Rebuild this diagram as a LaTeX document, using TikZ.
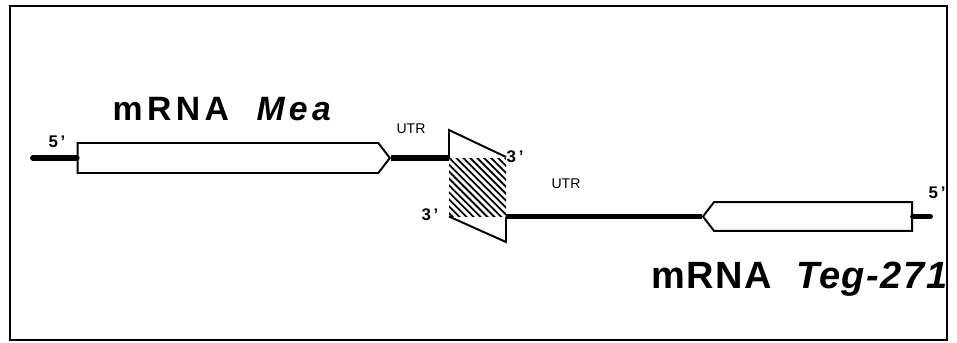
\documentclass[tikz,border=0pt]{standalone}
\usepackage{fontspec}
\setmainfont{Liberation Sans}
\newfontfamily\namefont{Liberation Sans}
\usepackage{tikz}
\usetikzlibrary{positioning,shapes.symbols,patterns.meta}

\begin{document}
\begin{tikzpicture}[x=0.025cm,y=-0.025cm,
    cds/.style={draw,fill=white,line width=1.4pt,signal,
                signal pointer angle=105,inner sep=0pt},
    rna/.style={line width=4.2pt},
    hyb/.style={line width=1.4pt,line join=miter},
    lbl/.style={anchor=base,inner sep=0pt,font=\bfseries\fontsize{12}{12}\selectfont},
    utr/.style={anchor=base,inner sep=0pt,font=\fontsize{10}{10}\selectfont},
    rnaname/.style={anchor=base,inner sep=0pt}]
      \useasboundingbox (0,0) rectangle (957,342);
      \draw[line width=1.4pt] (10,6) rectangle (947,340);
      \coordinate (mea5) at (33,158);
      \coordinate (hybL) at (449,158);
      \coordinate (hybR) at (506,216.5);
      \coordinate (teg5) at (930,216.5);
      \node[cds,signal to=east,minimum width=7.8cm,minimum height=0.75cm]
        (mea) at (228,158) {};
      \node[cds,signal to=west,minimum width=5.225cm,minimum height=0.72cm]
        (teg) at (813,216.5) {};
      \draw[rna,line cap=round] (mea5) -- (mea.west);
      \draw[rna] (mea.east) -- (hybL);
      \draw[rna] (hybR) -- (teg.west);
      \draw[rna,line cap=round] (teg.east) -- (teg5);
      \fill[pattern={Lines[angle=-45,distance=3.5pt,line width=1.3pt]}]
        (hybL) rectangle (hybR);
      \draw[hyb] (hybL) -- (449,130) -- (506,157);
      \draw[hyb] (449,216.5) -- (506,242) -- (hybR);
      \node[lbl] (mea5lbl) at (57,147) {5\,\char"27};
      \node[utr] (meautr) at (411,133) {UTR};
      \node[lbl] (mea3lbl) at (515,162) {3\,\char"27};
      \node[lbl] (teg3lbl) at (430,220) {3\,\char"27};
      \node[utr] (tegutr) at (566,188) {UTR};
      \node[lbl] (teg5lbl) at (937,198) {5\,\char"27};
      \node[rnaname,font=\namefont\addfontfeature{LetterSpace=13}\bfseries\fontsize{24}{24}\selectfont]
        (meaname) at (224,120) {mRNA\ \ \textit{Mea}};
      \node[rnaname,font=\namefont\addfontfeature{LetterSpace=4}\bfseries\fontsize{27}{27}\selectfont]
        (tegname) at (800,288) {mRNA\ \ \textit{Teg-271}};
    \end{tikzpicture}
\end{document}
